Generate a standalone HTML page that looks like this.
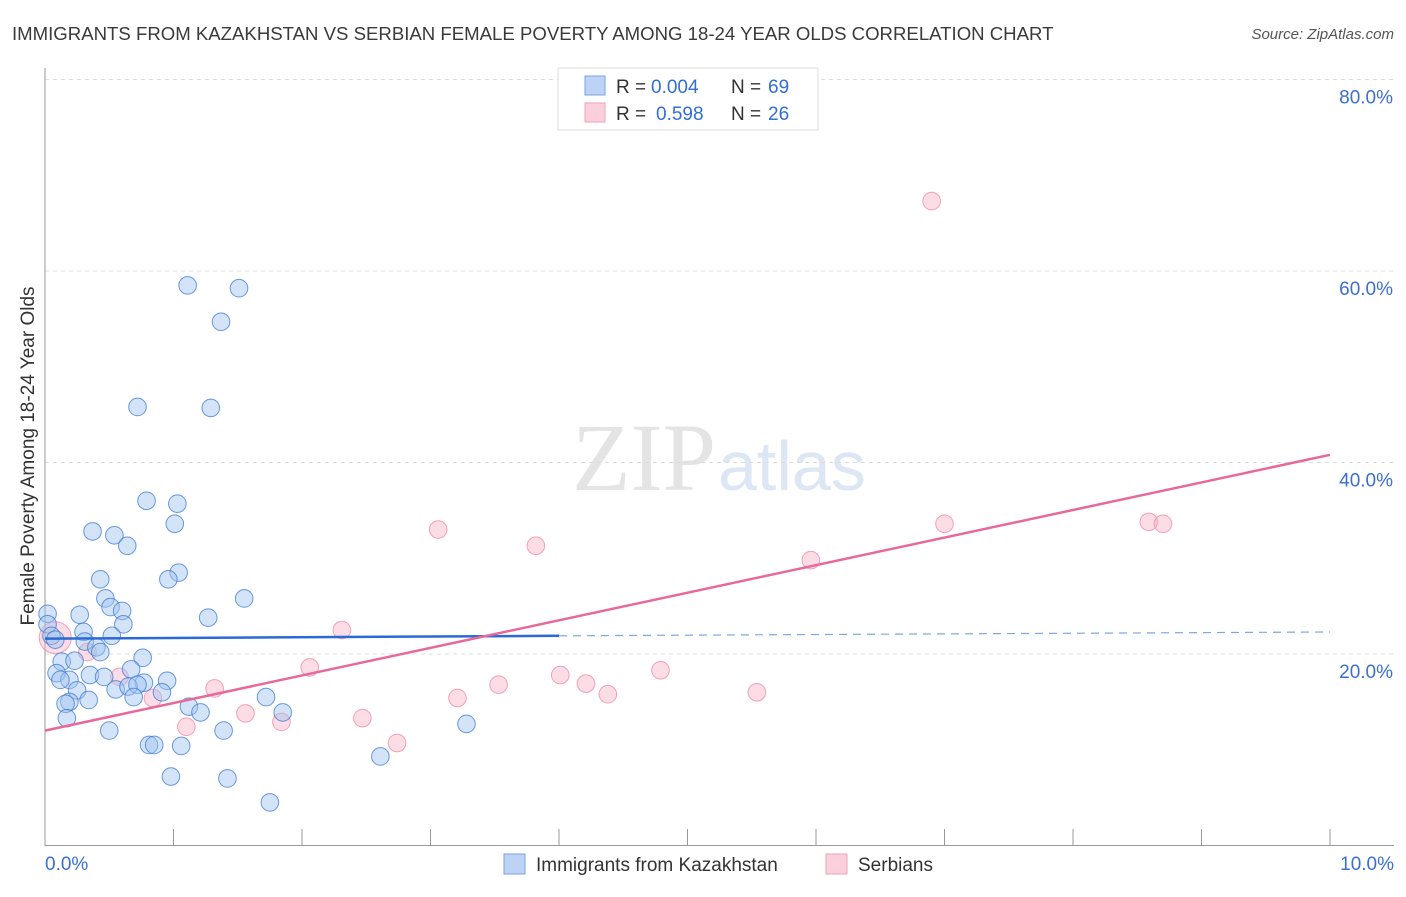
<!DOCTYPE html>
<html><head><meta charset="utf-8"><style>
body{margin:0;background:#fff;font-family:"Liberation Sans",sans-serif}
</style></head><body>
<svg id="chart" width="1406" height="892" xmlns="http://www.w3.org/2000/svg" font-family="Liberation Sans, sans-serif">
<text x="12" y="40" font-size="18.6" fill="#3a3a3a">IMMIGRANTS FROM KAZAKHSTAN VS SERBIAN FEMALE POVERTY AMONG 18-24 YEAR OLDS CORRELATION CHART</text>
<text x="1394" y="39" font-size="15" fill="#555" font-style="italic" text-anchor="end">Source: ZipAtlas.com</text>
<text x="716" y="490" font-size="96" text-anchor="end" fill="#e4e4e4" font-family="Liberation Serif, serif">ZIP</text>
<text x="718" y="490" font-size="70" fill="#dce6f5">atlas</text>
<g id="grid"></g><g id="axes"></g><g id="marks"></g>
<text transform="translate(34,456) rotate(-90)" font-size="19" fill="#333" text-anchor="middle">Female Poverty Among 18-24 Year Olds</text>
<g>
<rect x="558" y="68" width="260" height="62" fill="#fff" stroke="#ddd"/>
<rect x="585" y="76" width="20" height="19" fill="#bcd3f5" stroke="#7aa3e3"/>
<rect x="585" y="103" width="20" height="19" fill="#fbd0dc" stroke="#f0a0b8"/>
<text x="616" y="93" font-size="19" fill="#333">R =</text>
<text x="651" y="93" font-size="19" fill="#2f6fd6">0.004</text>
<text x="731" y="93" font-size="19" fill="#333">N =</text>
<text x="768" y="93" font-size="19" fill="#2f6fd6">69</text>
<text x="616" y="120" font-size="19" fill="#333">R =</text>
<text x="656" y="120" font-size="19" fill="#2f6fd6">0.598</text>
<text x="731" y="120" font-size="19" fill="#333">N =</text>
<text x="768" y="120" font-size="19" fill="#2f6fd6">26</text>
</g>
<g>
<rect x="504" y="854" width="21" height="20" fill="#bcd3f5" stroke="#7aa3e3"/>
<text x="536" y="871" font-size="19" fill="#333">Immigrants from Kazakhstan</text>
<rect x="826" y="854" width="21" height="20" fill="#fbd0dc" stroke="#f0a0b8"/>
<text x="858" y="871" font-size="19" fill="#333">Serbians</text>
</g>
</svg>
<script>
const blueX=[1.11,1.51,1.37,0.72,1.29,0.79,1.03,1.01,0.37,0.54,0.64,1.04,0.96,0.43,0.47,1.55,0.51,0.60,0.02,0.27,1.27,0.61,0.02,0.30,0.52,0.05,0.08,0.31,0.40,0.43,0.76,0.13,0.23,0.67,0.09,0.35,0.46,0.19,0.95,0.77,0.12,0.55,0.65,0.72,0.91,0.25,0.69,1.72,0.34,0.19,0.16,1.12,1.21,0.17,1.85,0.50,1.39,0.81,0.85,1.06,3.28,2.61,0.98,1.42,1.75];
const blueY=[58.5,58.2,54.7,45.8,45.7,36.0,35.7,33.6,32.8,32.4,31.3,28.5,27.8,27.8,25.8,25.8,24.9,24.5,24.2,24.1,23.8,23.1,23.1,22.3,21.9,21.9,21.5,21.3,20.7,20.2,19.6,19.2,19.3,18.4,18.0,17.8,17.6,17.3,17.2,17.0,17.3,16.3,16.6,16.8,16.0,16.2,15.5,15.5,15.2,15.0,14.8,14.5,13.9,13.3,13.9,12.0,12.0,10.5,10.5,10.4,12.7,9.3,7.2,7.0,4.5];
const pinkX=[6.90,3.06,3.82,8.59,8.70,7.00,5.96,2.31,2.06,4.79,4.01,4.21,3.53,4.38,3.21,5.54,1.32,0.84,1.56,2.47,1.84,1.10,2.74,0.58,0.33,0.08];
const pinkY=[67.3,33.0,31.3,33.8,33.6,33.6,29.8,22.5,18.6,18.3,17.8,16.9,16.8,15.8,15.4,16.0,16.4,15.4,13.8,13.3,12.9,12.4,10.7,17.6,20.2,21.7];
const yTicks=[20,40,60,80];
const xTickLabels=["0.0%","10.0%"];
const blueTrend=[21.6,21.9,22.3]; // at x=0, 4, 10
const pinkTrend=[12.0,40.8]; // at x=0,10
const NS="http://www.w3.org/2000/svg";
const X0=45,X1=1330,Y0=845.5,YS=9.575;
const sx=v=>X0+(X1-X0)*v/10, sy=v=>Y0-v*YS;
function mk(p,t,a){const e=document.createElementNS(NS,t);for(const k in a)e.setAttribute(k,a[k]);document.getElementById(p).appendChild(e);return e;}
yTicks.forEach(t=>{
 const l=mk('grid','line',{x1:X0,x2:1394,y1:sy(t),y2:sy(t),stroke:'#ddd','stroke-dasharray':'4,4'});
 
 
 const tx=mk('grid','text',{x:1393,y:sy(t)+24,'font-size':19,fill:'#3b6fd4','text-anchor':'end'});
 tx.textContent=t.toFixed(1)+'%';
 
 
});
const ax=mk('axes','line',{x1:X0,x2:X0,y1:68,y2:846,stroke:'#999'});


const bx=mk('axes','line',{x1:X0,x2:1394,y1:845.5,y2:845.5,stroke:'#999'});


for(let i=0;i<=10;i++){const t=mk('axes','line',{x1:sx(i),x2:sx(i),y1:829,y2:846,stroke:'#999'});
 
 }
const xl0=mk('axes','text',{x:45,y:870,'font-size':19,fill:'#3b6fd4'});xl0.textContent=xTickLabels[0];


const xl1=mk('axes','text',{x:1394,y:870,'font-size':19,fill:'#3b6fd4','text-anchor':'end'});xl1.textContent=xTickLabels[1];


pinkX.forEach((x,i)=>{const c=mk('marks','circle',{cx:sx(x),cy:sy(pinkY[i]),r:i==pinkX.length-1?16:8.8,fill:'rgba(248,180,200,0.45)',stroke:'rgba(238,140,170,0.8)','stroke-width':1});
 
 });
blueX.forEach((x,i)=>{const c=mk('marks','circle',{cx:sx(x),cy:sy(blueY[i]),r:8.8,fill:'rgba(160,195,240,0.45)',stroke:'rgba(60,120,210,0.75)','stroke-width':1});
 
 });
const b1=mk('marks','line',{x1:sx(0),y1:sy(blueTrend[0]),x2:sx(4),y2:sy(blueTrend[1]),stroke:'#2a6ad6','stroke-width':2.5});


const b2=mk('marks','line',{x1:sx(4),y1:sy(blueTrend[1]),x2:sx(10),y2:sy(blueTrend[2]),stroke:'#7ea6e0','stroke-width':1.2,'stroke-dasharray':'8,6'});


const p1=mk('marks','line',{x1:sx(0),y1:sy(pinkTrend[0]),x2:sx(10),y2:sy(pinkTrend[1]),stroke:'#e8689a','stroke-width':2.5});


</script>
</body></html>
